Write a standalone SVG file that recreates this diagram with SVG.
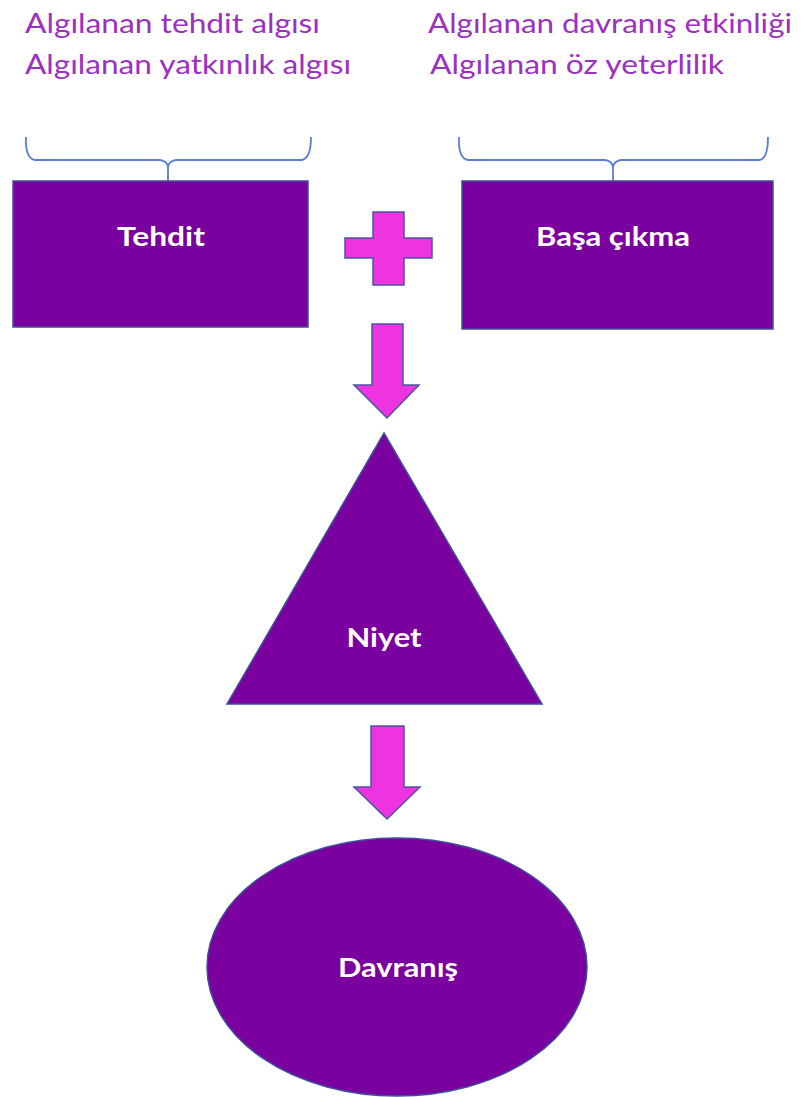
<svg xmlns="http://www.w3.org/2000/svg" width="802" height="1097" viewBox="0 0 802 1097">
<style>
.lbl{font-family:Lato,"Open Sans","Liberation Sans",sans-serif;font-size:26px;fill:#9B30C2}
.node{fill:#7A00A0;stroke:#3F4F9A;stroke-width:1.5}
.nt{font-family:Lato,"Open Sans","Liberation Sans",sans-serif;font-size:27px;font-weight:bold;fill:#FFFFFF;text-anchor:middle}
.arr{fill:#EE33E0;stroke:#4A55A0;stroke-width:1.5}
.brace{fill:none;stroke:#5B7FD0;stroke-width:1.8}
</style>
<rect width="802" height="1097" fill="#FFFFFF"/>
<g id="labels">
<text class="lbl" x="25" y="33" textLength="295" lengthAdjust="spacingAndGlyphs">Algılanan tehdit algısı</text>
<text class="lbl" x="25" y="74" textLength="326" lengthAdjust="spacingAndGlyphs">Algılanan yatkınlık algısı</text>
<text class="lbl" x="428" y="33" textLength="364" lengthAdjust="spacingAndGlyphs">Algılanan davranış etkinliği</text>
<text class="lbl" x="430" y="74" textLength="294" lengthAdjust="spacingAndGlyphs">Algılanan öz yeterlilik</text>
</g>
<g id="braces">
<path class="brace" d="M26,137 Q25,158 35,160 L160,160 Q167,161 168,167 L168,181 M168,167 Q169,161 176,160 L302,160 Q311,158 311,137"/>
<path class="brace" d="M459,137 Q458,158 468,160 L605,160 Q612,161 613,167 L613,181 M613,167 Q614,161 621,160 L760,160 Q768,158 768,137"/>
</g>
<g id="tehdit">
<rect class="node" x="13" y="181" width="295" height="146"/>
<text class="nt" x="161" y="246" textLength="88" lengthAdjust="spacingAndGlyphs">Tehdit</text>
</g>
<g id="basa-cikma">
<rect class="node" x="462" y="181" width="311" height="148"/>
<text class="nt" x="613" y="246" textLength="154" lengthAdjust="spacingAndGlyphs">Başa çıkma</text>
</g>
<g id="connectors">
<path class="arr" d="M373,212 H404 V238 H432 V258 H404 V285 H373 V258 H345 V238 H373 Z"/>
<path class="arr" d="M372,324 H403 V385 H419 L387,418 L354,385 H372 Z"/>
<path class="arr" d="M371,726 H404 V787 H420 L387,819 L354,787 H371 Z"/>
</g>
<g id="niyet">
<polygon class="node" points="384,433 542,704 227,704"/>
<text class="nt" x="384" y="647" textLength="75" lengthAdjust="spacingAndGlyphs">Niyet</text>
</g>
<g id="davranis">
<ellipse class="node" cx="397" cy="967" rx="190" ry="129"/>
<text class="nt" x="398" y="977" textLength="120" lengthAdjust="spacingAndGlyphs">Davranış</text>
</g>
</svg>
